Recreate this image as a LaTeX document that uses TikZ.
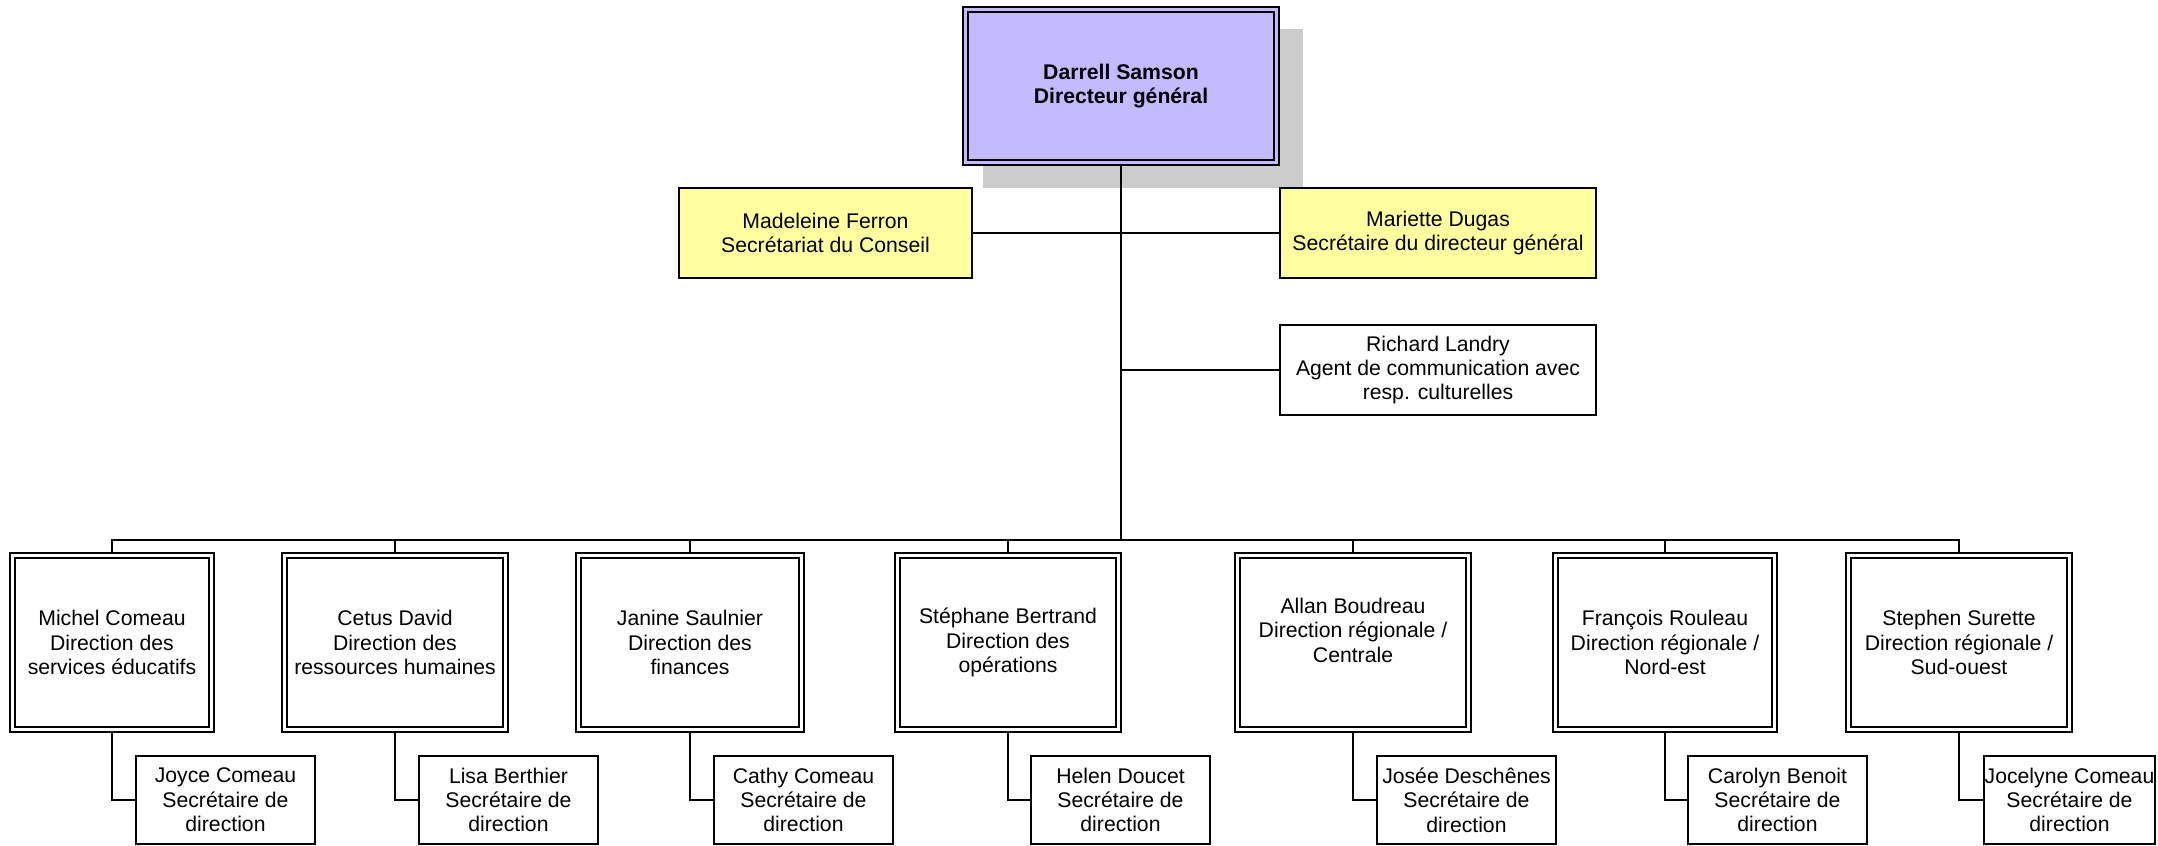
\documentclass[tikz,border=0pt]{standalone}
\usepackage{fontspec}
\setmainfont{Liberation Sans}
\pgfdeclarelayer{bg}
\pgfdeclarelayer{conn}
\pgfsetlayers{bg,conn,main}
\definecolor{chiefblue}{RGB}{196,186,255}
\definecolor{asstyellow}{RGB}{255,255,160}
\definecolor{shadowgray}{RGB}{204,204,204}
\tikzset{
  box/.style={draw=black, line width=0.8pt, inner sep=0pt, outer sep=0pt, align=center, fill=white,
    font=\fontsize{10.6pt}{12.2pt}\selectfont},
  dblbox/.style={box, line width=0.9pt, double=white, double distance=1.5pt, minimum height=87.25pt},
  chiefbox/.style={box, line width=0.9pt, fill=chiefblue, double=chiefblue, double distance=1.5pt,
    font=\fontsize{10.6pt}{12.2pt}\selectfont\bfseries, minimum width=155.75pt, minimum height=76.25pt},
  asstbox/.style={box, fill=asstyellow, minimum height=44.75pt},
  staffbox/.style={box, minimum width=158.25pt, minimum height=45.25pt},
  secbox/.style={box, minimum width=89.75pt, minimum height=43.75pt},
  link/.style={draw=black, line width=1pt},
}
\begin{document}
\begin{tikzpicture}[x=0.5pt,y=-0.5pt]
\useasboundingbox (0,0) rectangle (2158,846);
\begin{pgfonlayer}{bg}
  \fill[white] (0,0) rectangle (2158,846);
\end{pgfonlayer}

% top
\node[chiefbox] (chief) at (1121,86) {Darrell Samson\\Directeur général};
\node[asstbox, minimum width=146.75pt] (ferron) at (825.5,233) {Madeleine Ferron\\Secrétariat du Conseil};
\node[asstbox, minimum width=158.25pt] (dugas) at (1438,233) {Mariette Dugas\\Secrétaire du directeur général};
\node[staffbox] (landry) at (1438,370) {Richard Landry\\Agent de communication avec\\resp. culturelles};
\coordinate (bus) at (1121,540);

% directors
\node[dblbox, minimum width=99.25pt]  (d1) at (112,642.5)  {Michel Comeau\\Direction des\\services éducatifs};
\node[dblbox, minimum width=110.75pt] (d2) at (395,642.5)  {Cetus David\\Direction des\\ressources humaines};
\node[dblbox, minimum width=111.25pt] (d3) at (690,642.5)  {Janine Saulnier\\Direction des\\finances};
\node[dblbox, minimum width=110.25pt] (d4) at (1008,642.5) {Stéphane Bertrand\\Direction des\\opérations};
\node[dblbox, minimum width=115.75pt] (d5) at (1353,642.5) {Allan Boudreau\\Direction régionale /\\Centrale\\\mbox{}};
\node[dblbox, minimum width=109.75pt] (d6) at (1665,642.5) {François Rouleau\\Direction régionale /\\Nord-est};
\node[dblbox, minimum width=110.25pt] (d7) at (1959,642.5) {Stephen Surette\\Direction régionale /\\Sud-ouest};

% secretaries
\node[secbox] (s1) at (225.5,800)  {Joyce Comeau\\Secrétaire de\\direction};
\node[secbox] (s2) at (508.5,800)  {Lisa Berthier\\Secrétaire de\\direction};
\node[secbox] (s3) at (803.5,800)  {Cathy Comeau\\Secrétaire de\\direction};
\node[secbox] (s4) at (1120.5,800) {Helen Doucet\\Secrétaire de\\direction};
\node[secbox] (s5) at (1466.5,800) {Josée Deschênes\\Secrétaire de\\direction};
\node[secbox] (s6) at (1777.5,800) {Carolyn Benoit\\Secrétaire de\\direction};
\node[secbox, minimum width=85.75pt] (s7) at (2069.5,800) {Jocelyne Comeau\\Secrétaire de\\direction};

\begin{pgfonlayer}{conn}
  \fill[shadowgray] ([shift={(18,19)}]chief.north west) rectangle ([shift={(26,25.5)}]chief.south east);
  \draw[link] (chief.south) -- (bus);
  \draw[link] (ferron.east) -- (dugas.west);
  \draw[link] (landry.west) -- (landry.west -| chief.south);
  \draw[link] (d1.north) |- (bus) -| (d7.north);
  \foreach \i in {2,...,6} {\draw[link] (d\i.north) -- (d\i.north |- bus);}
  \foreach \i in {1,...,7} {\draw[link] (d\i.south) |- (s\i.west);}
\end{pgfonlayer}
\end{tikzpicture}
\end{document}
